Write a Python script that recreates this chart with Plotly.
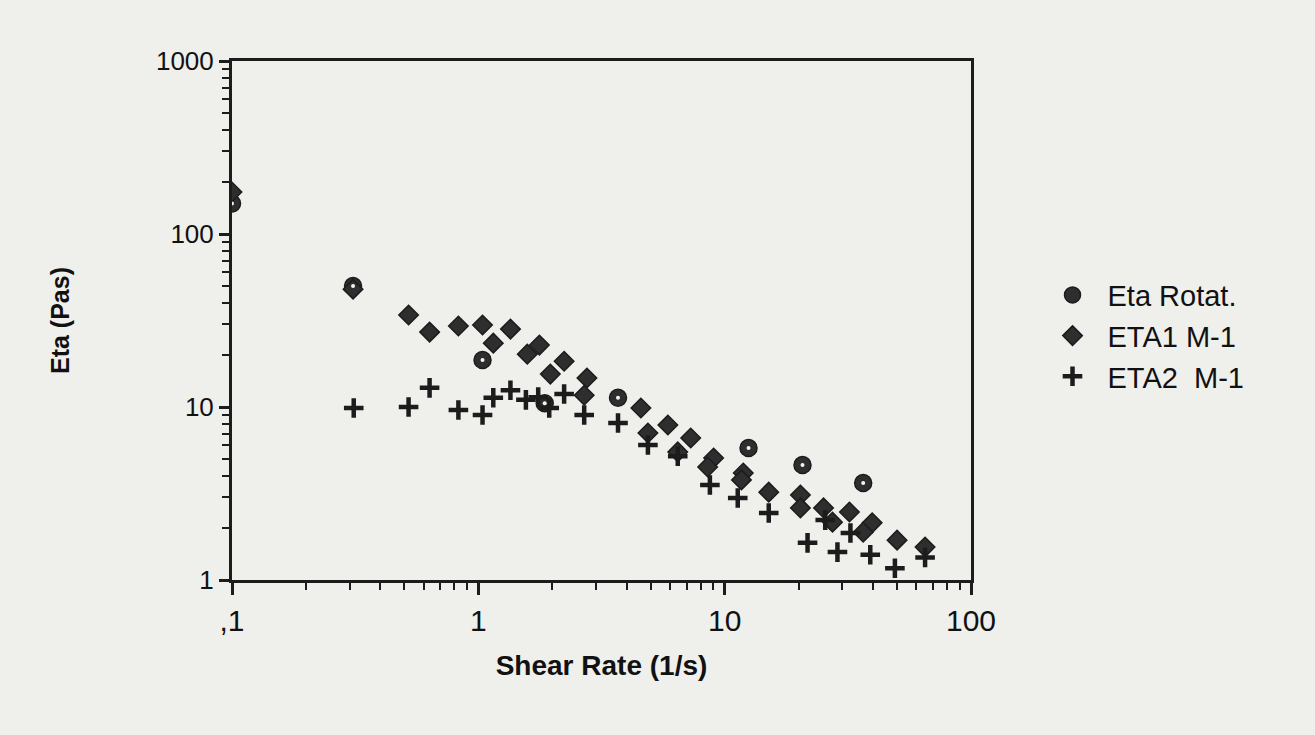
import plotly.graph_objects as go

# ---- data ----
rot_x = [0.1, 0.31, 1.04, 1.86, 3.69, 12.5, 20.7, 36.5]
rot_y = [150, 50, 18.7, 10.5, 11.3, 5.79, 4.62, 3.64]

eta1_x = [0.1, 0.31, 0.521, 0.634, 0.83, 1.04, 1.35, 1.15, 1.77, 1.58, 2.23, 1.96, 2.76, 2.69,
          4.57, 5.88, 4.88, 7.28, 6.45, 9.02, 8.53, 11.9, 11.7, 15.1, 20.3, 20.3, 25.2, 27.4,
          32.1, 39.7, 36.5, 50.1, 65.1]
eta1_y = [175, 48, 34.0, 27.1, 29.4, 29.8, 28.2, 23.4, 22.8, 20.2, 18.4, 15.5, 14.7, 11.7,
          9.87, 7.87, 7.07, 6.62, 5.50, 5.07, 4.50, 4.15, 3.79, 3.22, 3.10, 2.61, 2.61, 2.16,
          2.47, 2.14, 1.89, 1.70, 1.55]

eta2_x = [0.312, 0.521, 0.634, 0.83, 1.04, 1.15, 1.35, 1.56, 1.75, 1.94, 2.23, 2.69, 3.69,
          4.88, 6.45, 8.71, 11.3, 15.1, 21.7, 25.6, 28.7, 32.4, 39.0, 49.1, 65.1]
eta2_y = [9.87, 10.0, 12.9, 9.61, 8.99, 11.3, 12.5, 11.0, 11.4, 9.87, 11.9, 8.99, 8.08,
          6.03, 5.2, 3.54, 2.98, 2.44, 1.64, 2.22, 1.45, 1.87, 1.40, 1.17, 1.35]

x_tickvals = [0.1, 1, 10, 100]
x_ticktext = [",1", "1", "10", "100"]
y_tickvals = [1, 10, 100, 1000]
y_ticktext = ["1", "10", "100", "1000"]
x_minor = [0.2, 0.3, 0.4, 0.5, 0.6, 0.7, 0.8, 0.9, 2, 3, 4, 5, 6, 7, 8, 9,
           20, 30, 40, 50, 60, 70, 80, 90]
y_minor = [2, 3, 4, 5, 6, 7, 8, 9, 20, 30, 40, 50, 60, 70, 80, 90,
           200, 300, 400, 500, 600, 700, 800, 900]

ink = "#1c1c1c"
fill = "#2e2e2e"
bg = "#efefec"
font = "Liberation Sans, Arial, sans-serif"

fig = go.Figure()
fig.add_trace(go.Scatter(
    x=rot_x, y=rot_y, mode="markers", name="Eta Rotat.", legendgroup="rot",
    marker=dict(symbol="circle", size=17, color=fill, line=dict(color=ink, width=1.5))))
fig.add_trace(go.Scatter(
    x=eta1_x, y=eta1_y, mode="markers", name="ETA1 M-1",
    marker=dict(symbol="diamond", size=15, color=fill, line=dict(color=ink, width=1.5))))
fig.add_trace(go.Scatter(
    x=eta2_x, y=eta2_y, mode="markers", name="ETA2  M-1",
    marker=dict(symbol="cross-thin", size=14, color=ink, line=dict(color=ink, width=4.5))))
# white centre dot of the "Eta Rotat." markers
fig.add_trace(go.Scatter(
    x=rot_x, y=rot_y, mode="markers", showlegend=False, legendgroup="rot", hoverinfo="skip",
    marker=dict(symbol="circle", size=4, color="#f4f4f2", line=dict(width=0))))

axis_common = dict(
    type="log", showgrid=False, zeroline=False,
    showline=True, linecolor=ink, linewidth=3, mirror=True,
    ticks="outside", tickwidth=2.5, tickcolor=ink,
)

fig.update_xaxes(
    **axis_common, ticklen=12, range=[-1, 2], tickvals=x_tickvals, ticktext=x_ticktext,
    tickfont=dict(family=font, size=30, color="#111"),
    minor=dict(tickvals=x_minor, ticks="outside", ticklen=7, tickwidth=2, tickcolor=ink),
    title=dict(text="<b>Shear Rate (1/s)</b>", font=dict(family=font, size=28, color="#111"),
               standoff=20),
)
fig.update_yaxes(
    **axis_common, ticklen=10, range=[0, 3], tickvals=y_tickvals, ticktext=y_ticktext,
    tickfont=dict(family=font, size=26, color="#111"),
    minor=dict(tickvals=y_minor, ticks="outside", ticklen=7, tickwidth=2, tickcolor=ink),
    ticklabelstandoff=0,
    title=dict(text="<b>Eta (Pas)</b>", font=dict(family=font, size=25, color="#111"),
               standoff=80),
)

fig.update_layout(
    width=1315, height=735,
    margin=dict(l=232, r=344, t=61, b=155),
    paper_bgcolor=bg, plot_bgcolor=bg,
    showlegend=True,
    legend=dict(x=1.09, xanchor="left", y=0.47, yanchor="middle",
                font=dict(family=font, size=29, color="#111"),
                bgcolor="rgba(0,0,0,0)", itemwidth=60, tracegroupgap=0),
)

fig.write_html("out.html")
